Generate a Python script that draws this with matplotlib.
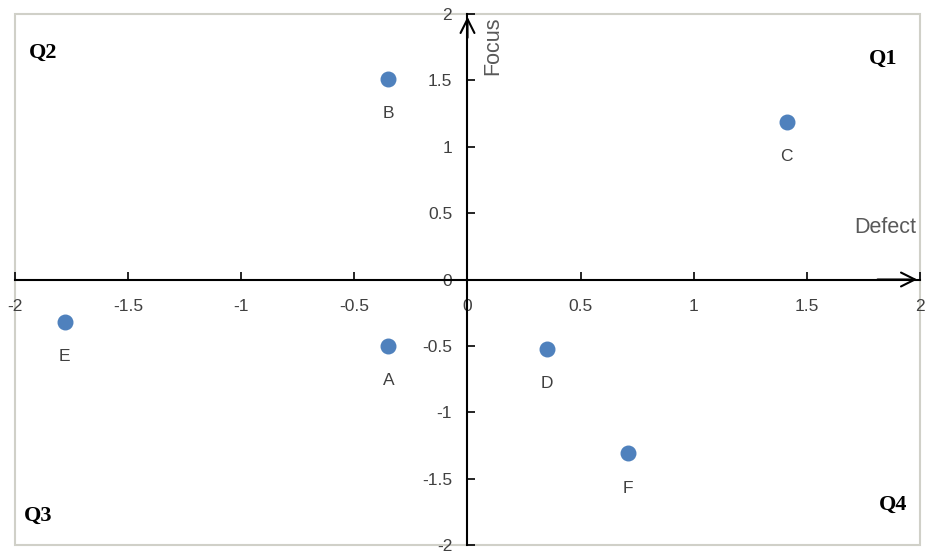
import matplotlib
matplotlib.use("Agg")
import matplotlib.pyplot as plt
from matplotlib.patches import Rectangle

names = ["A", "B", "C", "D", "E", "F"]
defect = [-0.35, -0.35, 1.41, 0.35, -1.78, 0.71]
focus = [-0.50, 1.51, 1.19, -0.52, -0.32, -1.31]
ticks = [-2, -1.5, -1, -0.5, 0, 0.5, 1, 1.5, 2]
tick_labels = ["-2", "-1.5", "-1", "-0.5", "0", "0.5", "1", "1.5", "2"]
quadrants = ["Q1", "Q2", "Q3", "Q4"]

plt.rcParams['font.family'] = ['Liberation Sans', 'DejaVu Sans']

fig = plt.figure(figsize=(9.35, 5.58), dpi=100)
W, H = 935, 558
ax = fig.add_axes([15 / W, (H - 545) / H, 905 / W, 531 / H])
ax.set_xlim(-2, 2)
ax.set_ylim(-2, 2)

# gray frame
ax.add_patch(Rectangle((0, 0), 1, 1, transform=ax.transAxes, fill=False,
                       edgecolor="#d0d0c8", lw=1.5, clip_on=False, zorder=0))
for s in ["top", "right"]:
    ax.spines[s].set_visible(False)
ax.spines["bottom"].set_position(("data", 0))
ax.spines["left"].set_position(("data", 0))
for s in ["bottom", "left"]:
    ax.spines[s].set_color("black")
    ax.spines[s].set_linewidth(1.5)

ax.set_xticks(ticks)
ax.set_xticklabels(tick_labels)
ax.set_yticks(ticks)
ax.set_yticklabels(tick_labels)
ax.tick_params(axis="x", direction="in", length=6, width=1.2, pad=14,
               labelsize=12.5, labelcolor="#404040")
ax.tick_params(axis="y", direction="in", length=6, width=1.2, pad=11,
               labelsize=12.5, labelcolor="#404040")

# arrowheads
ax.annotate("", xy=(2, 0), xytext=(1.8, 0),
            arrowprops=dict(arrowstyle="->", color="black", lw=1.5, mutation_scale=25),
            annotation_clip=False)
ax.annotate("", xy=(0, 2), xytext=(0, 1.8),
            arrowprops=dict(arrowstyle="->", color="black", lw=1.5, mutation_scale=25),
            annotation_clip=False)

ax.scatter(defect, focus, s=110, color="#4F81BD", zorder=3)
for n, x, y in zip(names, defect, focus):
    ax.annotate(n, (x, y), xytext=(0, -25), textcoords="offset points",
                ha="center", va="center", fontsize=12.5, color="#404040")

ax.text(1.985, 0.39, "Defect", ha="right", va="center", fontsize=15.5, color="#595959")
ax.text(0.11, 1.98, "Focus", ha="center", va="top", rotation=90, fontsize=15.5, color="#595959")

qpos = {"Q1": (1.90, 1.66, "right"), "Q2": (-1.94, 1.71, "left"),
        "Q3": (-1.96, -1.78, "left"), "Q4": (1.945, -1.70, "right")}
for q in quadrants:
    x, y, ha = qpos[q]
    ax.text(x, y, q, ha=ha, va="center", fontsize=16, fontweight="bold",
            family="Liberation Serif", color="black")

fig.savefig("out.png", dpi=100)
